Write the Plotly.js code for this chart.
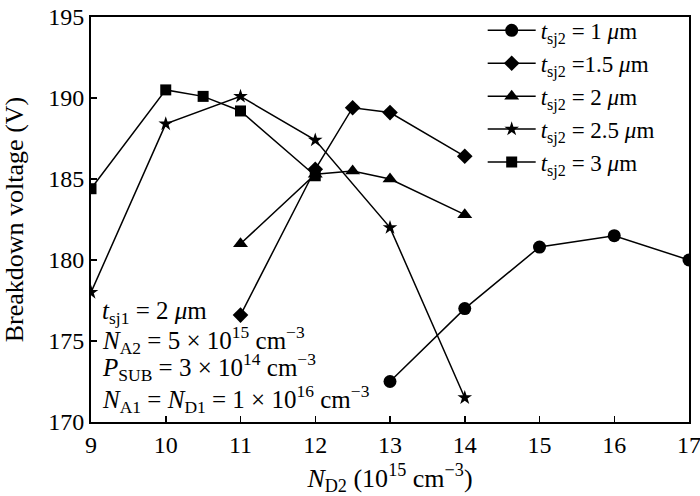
<!DOCTYPE html>
<html><head><meta charset="utf-8">
<script src="https://cdn.plot.ly/plotly-3.0.1.min.js"></script>
<style>body{margin:0;background:#fff}#c{width:700px;height:496px}</style>
</head><body><div id="c"></div>
<script>
const x1 = [13, 14, 15, 16, 17];
const y1 = [172.5, 177.0, 180.8, 181.5, 180.0];
const x2 = [11, 12, 12.5, 13, 14];
const y2 = [176.6, 185.6, 189.4, 189.1, 186.4];
const x3 = [11, 12, 12.5, 13, 14];
const y3 = [181.0, 185.3, 185.5, 185.0, 182.8];
const x4 = [9, 10, 11, 12, 13, 14];
const y4 = [178.0, 188.4, 190.1, 187.4, 182.0, 171.5];
const x5 = [9, 10, 10.5, 11, 12];
const y5 = [184.4, 190.5, 190.1, 189.2, 185.2];
const names = [
  '<i>t</i><sub>sj2</sub> = 1 <i>μ</i>m',
  '<i>t</i><sub>sj2</sub> =1.5 <i>μ</i>m',
  '<i>t</i><sub>sj2</sub> = 2 <i>μ</i>m',
  '<i>t</i><sub>sj2</sub> = 2.5 <i>μ</i>m',
  '<i>t</i><sub>sj2</sub> = 3 <i>μ</i>m'
];
const symbols = ['circle', 'diamond', 'triangle-up', 'star', 'square'];
const sizes = [13, 12, 13, 11, 11];
const xs = [x1, x2, x3, x4, x5];
const ys = [y1, y2, y3, y4, y5];
const noteLines = [
  '<i>t</i><sub>sj1</sub> = 2 <i>μ</i>m',
  '<i>N</i><sub>A2</sub> = 5 × 10<sup>15</sup> cm<sup>−3</sup>',
  '<i>P</i><sub>SUB</sub> = 3 × 10<sup>14</sup> cm<sup>−3</sup>',
  '<i>N</i><sub>A1</sub> = <i>N</i><sub>D1</sub> = 1 × 10<sup>16</sup> cm<sup>−3</sup>'
];
const notePix = [310, 338, 366, 399];

const traces = xs.map((x, i) => ({
  x: x, y: ys[i], name: names[i], type: 'scatter', mode: 'lines+markers',
  line: {color: '#000', width: 1.5},
  marker: {symbol: symbols[i], size: sizes[i], color: '#000'}
}));

const fam = '"Liberation Serif", "Times New Roman", serif';
const font = {family: fam, size: 24, color: '#000'};
const lfont = {family: fam, size: 23, color: '#000'};
const tfont = {family: fam, size: 26, color: '#000'};
const nfont = {family: fam, size: 25, color: '#000'};
const layout = {
  width: 700, height: 496,
  margin: {l: 91, r: 11, t: 9, b: 74},
  paper_bgcolor: '#fff', plot_bgcolor: '#fff',
  font: font,
  showlegend: true,
  legend: {x: 0.655, y: 1.02, xanchor: 'left', yanchor: 'top', bgcolor: 'rgba(0,0,0,0)',
           font: lfont, tracegroupgap: 0, itemwidth: 48},
  xaxis: {
    range: [9, 17], tickvals: [9,10,11,12,13,14,15,16,17],
    ticks: 'inside', ticklen: 6, tickwidth: 1.5, tickcolor: '#000',
    showline: true, linecolor: '#000', linewidth: 2, mirror: true,
    showgrid: false, zeroline: false, tickfont: font, ticklabeloverflow: 'allow',
    title: {text: '<i>N</i><sub>D2</sub> (10<sup>15</sup> cm<sup>−3</sup>)', font: tfont, standoff: 24}
  },
  yaxis: {
    range: [170, 195], tickvals: [170,175,180,185,190,195],
    ticks: 'inside', ticklen: 6, tickwidth: 1.5, tickcolor: '#000',
    showline: true, linecolor: '#000', linewidth: 2, mirror: true,
    showgrid: false, zeroline: false, tickfont: font, ticklabeloverflow: 'allow',
    title: {text: 'Breakdown voltage (V)', font: tfont, standoff: 18}
  },
  annotations: noteLines.map((t, i) => ({
    text: t, xref: 'paper', yref: 'paper', x: 0.015,
    y: (422 - notePix[i]) / 413, xanchor: 'left', yanchor: 'middle',
    showarrow: false, font: nfont, align: 'left'
  }))
};
Plotly.newPlot('c', traces, layout, {displayModeBar: false, staticPlot: true});
</script></body></html>
